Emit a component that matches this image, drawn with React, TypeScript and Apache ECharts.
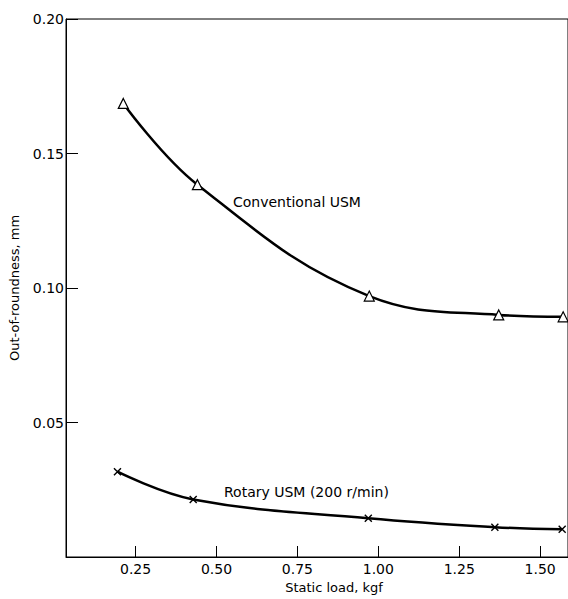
import React, { useEffect, useRef } from "react";
import * as echarts from "echarts";

const conventionalX = [0.212, 0.441, 0.972, 1.372, 1.571];
const conventionalY = [0.1686, 0.1384, 0.097, 0.09, 0.0893];
const rotaryX = [0.194, 0.428, 0.969, 1.36, 1.568];
const rotaryY = [0.0317, 0.0214, 0.0144, 0.0111, 0.0103];
const xTicks = [0.25, 0.5, 0.75, 1.0, 1.25, 1.5];
const yTicks = [0.05, 0.1, 0.15, 0.2];

const FONT = "DejaVu Sans";

export default function App() {
  const ref = useRef<HTMLDivElement>(null);
  useEffect(() => {
    if (!ref.current) return;
    const chart = echarts.init(ref.current, undefined, { renderer: "svg" });
    const black = "#000";
    chart.setOption({
      animation: false,
      backgroundColor: "#fff",
      textStyle: { fontFamily: FONT, color: black },
      grid: {
        left: 63,
        top: 19,
        bottom: 38,
        right: -3,
        show: true,
        borderColor: black,
        borderWidth: 1,
      },
      xAxis: {
        type: "value",
        min: 0.035,
        max: 1.586,
        name: "Static load, kgf",
        nameLocation: "middle",
        nameGap: 24,
        nameTextStyle: { fontSize: 13, color: black, fontFamily: FONT, padding: [0, 0, 0, 34] },
        axisLine: { show: true, lineStyle: { color: black, width: 1 } },
        axisTick: { show: true, inside: true, length: 11, customValues: xTicks, lineStyle: { color: black } },
        axisLabel: {
          customValues: xTicks,
          formatter: (v: number) => v.toFixed(2),
          fontSize: 14,
          color: black,
          margin: 5,
          fontFamily: FONT,
        },
        splitLine: { show: false },
      },
      yAxis: {
        type: "value",
        min: 0,
        max: 0.2,
        interval: 0.05,
        name: "Out-of-roundness, mm",
        nameLocation: "middle",
        nameGap: 45,
        nameTextStyle: { fontSize: 13, color: black, fontFamily: FONT },
        axisLine: { show: true, lineStyle: { color: black, width: 1 } },
        axisTick: { show: true, inside: true, length: 12, customValues: yTicks, lineStyle: { color: black } },
        axisLabel: {
          customValues: yTicks,
          formatter: (v: number) => v.toFixed(2),
          fontSize: 14,
          color: black,
          margin: 2,
          fontFamily: FONT,
        },
        splitLine: { show: false },
      },
      series: [
        {
          type: "line",
          name: "Conventional USM",
          data: conventionalX.map((x, i) => [x, conventionalY[i]]),
          smooth: 0.4,
          symbol: "triangle",
          symbolSize: 10,
          lineStyle: { color: black, width: 2.5 },
          itemStyle: { color: "#fff", borderColor: black, borderWidth: 1.2 },
          z: 3,
        },
        {
          type: "line",
          name: "Rotary USM (200 r/min)",
          data: rotaryX.map((x, i) => [x, rotaryY[i]]),
          smooth: 0.4,
          symbol: "path://M0,0L10,10M10,0L0,10",
          symbolSize: 7,
          lineStyle: { color: black, width: 2.5 },
          itemStyle: { color: "transparent", borderColor: black, borderWidth: 1.4 },
          z: 3,
        },
      ],
      graphic: [
        {
          type: "text",
          left: 233,
          top: 195,
          style: { text: "Conventional USM", fontSize: 14, fontFamily: FONT, fill: black },
        },
        {
          type: "text",
          left: 224,
          top: 485,
          style: { text: "Rotary USM (200 r/min)", fontSize: 14, fontFamily: FONT, fill: black },
        },
      ],
    });
    return () => chart.dispose();
  }, []);
  return (
    <div
      ref={ref}
      style={{ position: "fixed", left: 0, top: 0, width: 568, height: 599 }}
    />
  );
}
